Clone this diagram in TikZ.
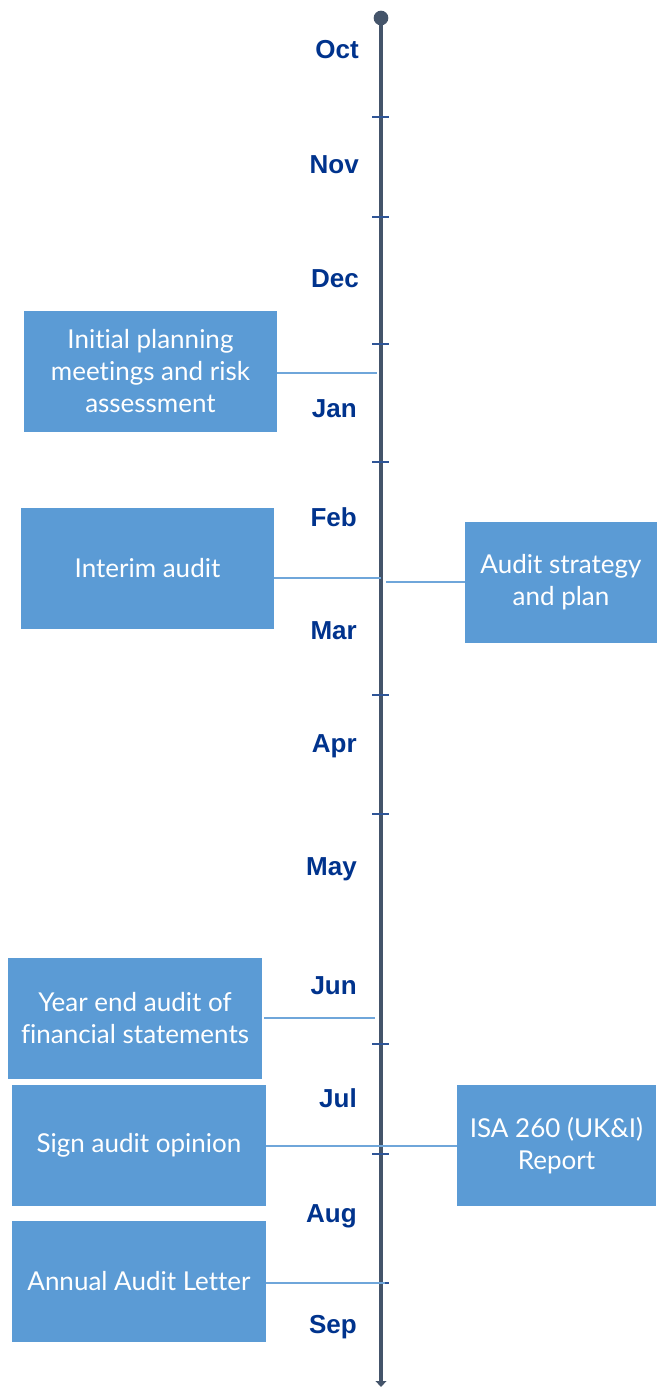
\documentclass[tikz,border=0pt]{standalone}
\usepackage{fontspec}
\setmainfont{Liberation Sans}
\newfontfamily\boxfont[Ligatures={NoCommon,NoRare,NoDiscretionary}]{Lato}
\usetikzlibrary{arrows.meta}
\definecolor{boxblue}{HTML}{5B9BD5}
\definecolor{connblue}{HTML}{6FA6DA}
\definecolor{axisgray}{HTML}{44546A}
\definecolor{tickblue}{HTML}{2F5597}
\definecolor{monthblue}{HTML}{00338D}
\tikzset{
  evbox/.style={fill=boxblue, draw=none, text=white, align=center, inner sep=0pt,
    font=\boxfont\fontsize{19.5}{24}\selectfont},
  month/.style={anchor=east, text=monthblue, inner sep=0pt,
    font=\bfseries\fontsize{19.5}{22}\selectfont},
  conn/.style={draw=connblue, line width=1.2pt},
  axisline/.style={draw=axisgray, line width=2.6pt},
  tickmark/.style={draw=tickblue, line width=1.3pt},
}
\begin{document}
\begin{tikzpicture}[x=0.75pt,y=-0.75pt]
\useasboundingbox[fill=white] (0,0) rectangle (657,1387);
% axis
\node[circle, fill=axisgray, inner sep=0pt, minimum size=11pt] (top) at (381,18) {};
\coordinate (bottom) at (381,1387);
\draw[axisline, -{Triangle[width=8pt,length=4.5pt]}] (top.center) -- (bottom);
% ticks
\foreach \y [count=\i] in {117,217,344,462,695,814,1044,1154,1283}{
  \coordinate (tl\i) at (372,\y);
  \coordinate (tr\i) at (389,\y);
  \draw[tickmark] (tl\i) -- (tr\i);
}
% months
\node[month] (oct) at (359,50) {Oct};
\node[month] (nov) at (359,165) {Nov};
\node[month] (dec) at (359,279) {Dec};
\node[month] (jan) at (357,409) {Jan};
\node[month] (feb) at (357,517) {Feb};
\node[month] (mar) at (357,631) {Mar};
\node[month] (apr) at (357,746) {Apr};
\node[month] (may) at (357,869) {May};
\node[month] (jun) at (357,986) {Jun};
\node[month] (jul) at (357,1098) {Jul};
\node[month] (aug) at (357,1216) {Aug};
\node[month] (sep) at (357,1327) {Sep};
% boxes
\node[evbox, minimum width=189.75pt, minimum height=90.75pt] (b1) at (150.5,371.5) {Initial planning\\meetings and risk\\assessment};
\node[evbox, minimum width=189.75pt, minimum height=90.75pt] (b2) at (147.5,568.5) {Interim audit};
\node[evbox, minimum width=144pt, minimum height=90.75pt] (b3) at (561,582.5) {Audit strategy\\and plan};
\node[evbox, minimum width=190.5pt, minimum height=90.75pt] (b4) at (135,1018.5) {Year end audit of\\financial statements};
\node[evbox, minimum width=190.5pt, minimum height=90.75pt] (b5) at (139,1145.5) {Sign audit opinion};
\node[evbox, minimum width=149.25pt, minimum height=90.75pt] (b6) at (556.5,1145.5) {ISA 260 (UK\&I)\\Report};
\node[evbox, minimum width=190.5pt, minimum height=90.75pt] (b7) at (139,1281.5) {Annual Audit Letter};
% connectors
\coordinate (c1) at (377,373);
\coordinate (c2) at (381,578);
\coordinate (c3) at (386,582);
\coordinate (c4) at (375,1018);
\coordinate (c7) at (385,1283);
\draw[conn] (b1.east |- c1) -- (c1);
\draw[conn] (b2.east |- c2) -- (c2);
\draw[conn] (c3) -- (b3.west |- c3);
\draw[conn] ([xshift=1.5pt]b4.east |- c4) -- (c4);
\draw[conn] (b5.east |- 0,1146) -- (b6.west |- 0,1146);
\draw[conn] (b7.east |- c7) -- (c7);
\end{tikzpicture}
\end{document}
